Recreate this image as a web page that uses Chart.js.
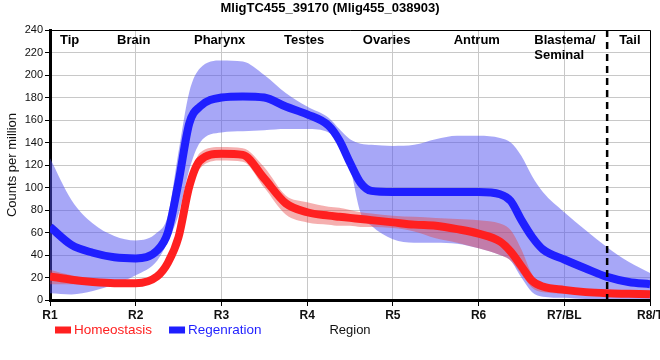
<!DOCTYPE html>
<html>
<head>
<meta charset="utf-8">
<script src="https://cdn.jsdelivr.net/npm/chart.js@4.4.1/dist/chart.umd.min.js"></script>
<style>
  html, body { margin: 0; padding: 0; background: #fff; }
</style>
</head>
<body>
<canvas id="chart" width="660" height="360"></canvas>
<script>
// positions along the body axis (R1 = 0 ... R8/T = 7)
const pos = [0, 0.25, 0.5, 0.75, 1, 1.25, 1.375, 1.5, 1.625, 1.75, 2, 2.25, 2.5, 2.75, 3, 3.25, 3.375, 3.5, 3.625, 3.75,
             4, 4.25, 4.5, 4.75, 5, 5.25, 5.375, 5.5, 5.625, 5.75, 6, 6.25, 6.5, 6.75, 7];
const tickLabels = ['R1', 'R2', 'R3', 'R4', 'R5', 'R6', 'R7/BL', 'R8/T'];

// Homeostasis
const homMean = [21, 18, 16, 15, 15, 21, 33, 56, 101, 124, 130, 129, 108, 86, 78, 75, 74, 73, 72, 71,
                 69, 67, 66, 63, 59, 52, 43, 30, 17, 12, 9, 7, 6, 5.5, 5];
const homUp   = [27, 22, 18, 17, 17, 23, 36, 62, 106, 131, 136, 135, 118, 93, 87, 83, 82, 80, 78, 77,
                 75, 74, 73, 72, 71, 68, 62, 45, 23, 15, 11, 9, 8, 7, 6.5];
const homLo   = [14, 14, 13.5, 13, 13, 18, 29, 50, 94, 117, 124, 123, 100, 76, 69, 67, 66, 66, 65, 65,
                 64, 61, 55, 51, 46, 40, 35, 23, 11, 7, 6, 5, 4.5, 4, 3.5];

// Regeneration
const regMean = [65, 49, 42, 38, 37, 44, 60, 105, 157, 172, 180, 181, 180, 172, 165, 155, 142, 122, 104, 97,
                 96, 96, 96, 96, 96, 94, 88, 71, 56, 45, 36, 28, 20.5, 16, 14];
const regUp   = [126, 89, 68, 57, 53, 60, 75, 132, 185, 206, 213, 212, 200, 184, 172, 162, 152, 143, 139, 138,
                 137, 138, 143, 146, 146, 144, 140, 128, 110, 96, 78, 62, 47, 34, 24];
const regLo   = [6, 5, 8, 14, 22, 35, 52, 76, 116, 140, 149, 150, 151, 152, 152, 149, 141, 118, 77, 66,
                 54, 51, 51, 50, 46, 40, 35, 20, 7, 3, 2, 1, 1, 1, 1];

// organ names along the top (left edge position in axis units)
const regionNames = [['Tip'], ['Brain'], ['Pharynx'], ['Testes'], ['Ovaries'], ['Antrum'], ['Blastema/', 'Seminal'], ['Tail']];
const regionNameX = [0.117, 0.783, 1.68, 2.73, 3.65, 4.71, 5.65, 6.64];
const tailBoundary = 6.5;

const FONT = '"Liberation Sans", Arial, sans-serif';
const RED = '#ff2020';
const BLUE = '#1f1fff';

const pts = arr => arr.map((v, i) => ({ x: pos[i], y: v }));

function line(label, values, color) {
    return {
        label: label, data: pts(values), borderColor: color, backgroundColor: color,
        borderWidth: 8, pointRadius: 0, fill: false, cubicInterpolationMode: 'monotone'
    };
}
function band(values, fill, color) {
    return {
        data: pts(values), borderColor: 'transparent', backgroundColor: color, borderWidth: 0,
        pointRadius: 0, fill: fill, cubicInterpolationMode: 'monotone'
    };
}

// datasets listed top-most first (Chart.js draws the last one first)
const datasets = [
    line('Homeostasis', homMean, RED),
    line('Regenration', regMean, BLUE),
    band(homUp, '+1', 'rgba(232,64,64,0.42)'),
    band(homLo, false, 'transparent'),
    band(regUp, '+1', 'rgba(80,80,240,0.5)'),
    band(regLo, false, 'transparent')
];

const decor = {
    id: 'decor',
    afterDatasetsDraw(chart) {
        const { ctx, chartArea: a, scales: { x } } = chart;
        ctx.save();
        // thin frame on top and right
        ctx.strokeStyle = '#000';
        ctx.lineWidth = 1;
        ctx.beginPath();
        ctx.moveTo(a.left, a.top + 0.5);
        ctx.lineTo(a.right + 0.5, a.top + 0.5);
        ctx.lineTo(a.right + 0.5, a.bottom);
        ctx.stroke();

        // dashed tail boundary
        const bx = x.getPixelForValue(tailBoundary);
        ctx.setLineDash([7, 5]);
        ctx.lineWidth = 2.5;
        ctx.beginPath();
        ctx.moveTo(bx, a.top);
        ctx.lineTo(bx, a.bottom + 6);
        ctx.stroke();
        ctx.setLineDash([]);

        // organ names
        ctx.font = 'bold 13px ' + FONT;
        ctx.fillStyle = '#000';
        ctx.textAlign = 'left';
        ctx.textBaseline = 'middle';
        regionNames.forEach((lines, i) => {
            lines.forEach((t, j) => ctx.fillText(t, x.getPixelForValue(regionNameX[i]), a.top + 10 + j * 15));
        });
        ctx.restore();
    },
    afterDraw(chart) {
        const { ctx, chartArea: a } = chart;
        ctx.save();
        // title
        ctx.font = 'bold 13px ' + FONT;
        ctx.fillStyle = '#000';
        ctx.textAlign = 'center';
        ctx.textBaseline = 'middle';
        ctx.fillText('MligTC455_39170 (Mlig455_038903)', chart.width / 2, 8);

        // legend
        ctx.font = '13.5px ' + FONT;
        ctx.textAlign = 'left';
        let lx = a.left + 5;
        const ly = 330;
        chart.data.datasets.filter(d => d.label).forEach(d => {
            ctx.fillStyle = d.borderColor;
            ctx.fillRect(lx, ly - 3.5, 16, 7);
            lx += 19;
            ctx.fillText(d.label, lx, ly);
            lx += ctx.measureText(d.label).width + 17;
        });
        ctx.restore();
    }
};

new Chart(document.getElementById('chart'), {
    type: 'line',
    data: { datasets: datasets },
    options: {
        responsive: false,
        devicePixelRatio: 1,
        animation: false,
        layout: { padding: { top: 30, right: 10, left: 0, bottom: 0 } },
        plugins: { legend: { display: false }, tooltip: { enabled: false }, filler: { propagate: false } },
        scales: {
            x: {
                type: 'linear', min: 0, max: 7,
                afterFit(s) { s.height = 60; s.paddingLeft = 0; s.paddingRight = 0; },
                ticks: {
                    stepSize: 1, autoSkip: false, maxRotation: 0, padding: 2,
                    color: '#111', font: { family: FONT, size: 12, weight: 'bold' },
                    callback: v => tickLabels[v]
                },
                grid: { color: '#c8c8c8', tickColor: '#000', tickLength: 6 },
                border: { color: '#000', width: 3 },
                title: {
                    display: true, text: 'Region', color: '#111',
                    font: { family: FONT, size: 13 }, padding: { top: 0, bottom: 22 }
                }
            },
            y: {
                min: 0, max: 240,
                afterFit(s) { s.width = 50; s.paddingTop = 0; s.paddingBottom = 0; },
                ticks: { stepSize: 20, padding: 2, color: '#111', font: { family: FONT, size: 11 } },
                grid: { color: '#c8c8c8', tickColor: '#000', tickLength: 5 },
                border: { color: '#000', width: 3 },
                title: {
                    display: true, text: 'Counts per million', color: '#111',
                    font: { family: FONT, size: 13 }, padding: { top: 5, bottom: 0 }
                }
            }
        }
    },
    plugins: [decor]
});
</script>
</body>
</html>
